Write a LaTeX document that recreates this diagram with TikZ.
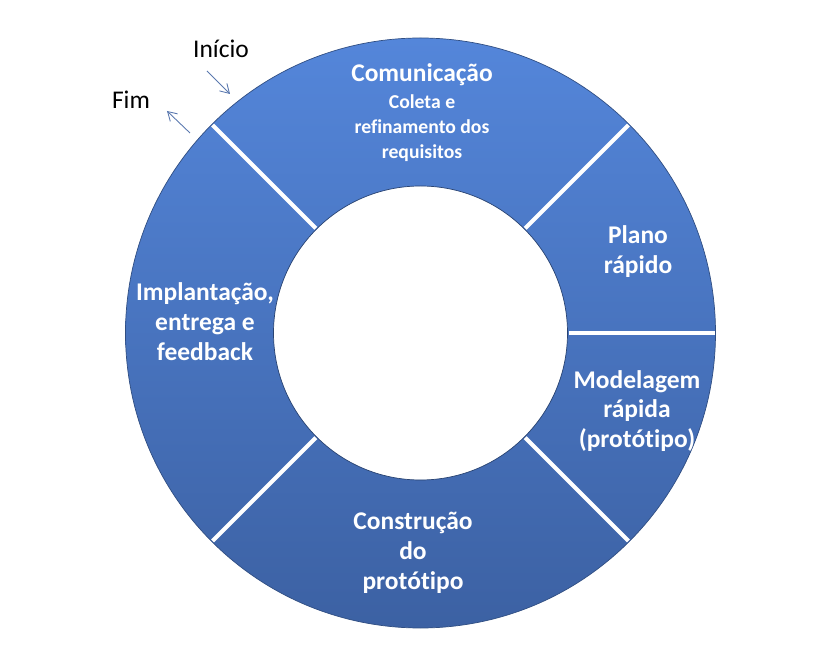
\documentclass[tikz,border=0pt]{standalone}
\usepackage{fontspec}
\setmainfont[Ligatures=NoCommon]{Carlito}
\usetikzlibrary{arrows.meta, positioning}
\definecolor{ringtop}{RGB}{84,134,218}
\definecolor{ringbot}{RGB}{60,97,163}
\definecolor{markblue}{RGB}{90,120,175}
\tikzset{
  phasetext/.style={
    font=\fontsize{14.5}{17}\selectfont\bfseries,
    text=white, align=center, inner sep=0pt
  },
  subtext/.style={
    font=\fontsize{11.2}{14.2}\selectfont\bfseries,
    text=white, align=center, inner sep=0pt
  },
  marktext/.style={font=\fontsize{14.5}{17}\selectfont, text=black, inner sep=0pt},
  markarrow/.style={-{Straight Barb[length=5pt,width=6pt]}, color=markblue, line width=0.5pt},
  sepline/.style={white, line width=2.4pt},
}
\begin{document}
\begin{tikzpicture}
  \useasboundingbox (-8.41,-6.48) rectangle (7.93,6.66);
  % ring
  \shade[top color=ringtop, bottom color=ringbot, even odd rule]
    (0,0) circle (5.9) (0,0) circle (2.94);
  \draw[ringbot!80!black, line width=0.4pt] (0,0) circle (5.9);
  \draw[ringbot!70!black, line width=0.4pt] (0,0) circle (2.94);
  \foreach \a in {135,45,0,-45,-135}
    \draw[sepline] (\a:2.96) -- (\a:5.88);
  % phases
  \node[phasetext](com) at (0.03,5.16){Comunicação};
  \node[subtext,below=0.16cm of com](req){Coleta e\\refinamento dos\\requisitos};
  \node[phasetext](pla) at (4.35,1.62){Plano\\rápido};
  \node[phasetext](mod) at (4.33,-1.56){Modelagem\\rápida\\(protótipo)};
  \node[phasetext](con) at (-0.15,-4.4){Construção\\do\\protótipo};
  \node[phasetext](imp) at (-4.31,0.22){Implantação,\\entrega e\\feedback};
  % start / end
  \node[marktext](ini) at (-3.99,5.68){Início};
  \node[marktext](fim) at (-5.79,4.66){Fim};
  \coordinate (inia) at (-4.27,5.24);
  \coordinate (inib) at (-3.81,4.78);
  \coordinate (fima) at (-4.61,4.0);
  \coordinate (fimb) at (-5.07,4.44);
  \draw[markarrow](inia)--(inib);
  \draw[markarrow](fima)--(fimb);
\end{tikzpicture}
\end{document}
